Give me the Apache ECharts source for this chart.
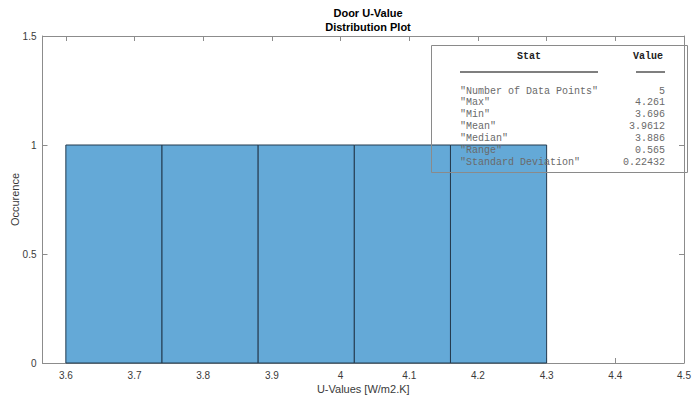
<!DOCTYPE html>
<html>
<head>
<meta charset="utf-8">
<script src="https://cdn.jsdelivr.net/npm/echarts@6/dist/echarts.min.js"></script>
<style>html,body{margin:0;padding:0;background:#fff}#c{width:692px;height:400px}</style>
</head>
<body>
<div id="c"></div>
<script>
const binEdges = [3.6, 3.74, 3.88, 4.02, 4.16, 4.3];
const counts = [1, 1, 1, 1, 1];
const xTicks = [3.6, 3.7, 3.8, 3.9, 4.0, 4.1, 4.2, 4.3, 4.4, 4.5];
const yTicks = [0, 0.5, 1, 1.5];
const statNames = ['"Number of Data Points"', '"Max"', '"Min"', '"Mean"', '"Median"', '"Range"', '"Standard Deviation"'];
const statValues = ['5', '4.261', '3.696', '3.9612', '3.886', '0.565', '0.22432'];

const histData = counts.map((c, i) => [binEdges[i], binEdges[i + 1], c]);
const fmt = v => String(Math.round(v * 10) / 10);
const axisColor = '#8c8c8c';
const labelColor = '#3a3a3a';
const mono = '"Liberation Mono", "DejaVu Sans Mono", monospace';

const graphics = [
  {type: 'rect', shape: {x: 431.5, y: 45.5, width: 256, height: 127}, style: {fill: 'none', stroke: '#8a8a8a', lineWidth: 1}, z: 100},
  {type: 'text', x: 529, y: 56, style: {text: 'Stat', font: 'bold 10px ' + mono, fill: '#222', align: 'center', verticalAlign: 'middle'}, z: 101},
  {type: 'text', x: 648, y: 56, style: {text: 'Value', font: 'bold 10px ' + mono, fill: '#222', align: 'center', verticalAlign: 'middle'}, z: 101},
  {type: 'line', shape: {x1: 460, y1: 72, x2: 598, y2: 72}, style: {stroke: '#555', lineWidth: 1.5}, z: 101},
  {type: 'line', shape: {x1: 636, y1: 72, x2: 665, y2: 72}, style: {stroke: '#555', lineWidth: 1.5}, z: 101}
];
statNames.forEach((n, i) => {
  const y = 91 + i * 11.9;
  graphics.push({type: 'text', x: 460, y: y, style: {text: n, font: '10px ' + mono, fill: '#6a6a6a', align: 'left', verticalAlign: 'middle'}, z: 101});
  graphics.push({type: 'text', x: 665, y: y, style: {text: statValues[i], font: '10px ' + mono, fill: '#6a6a6a', align: 'right', verticalAlign: 'middle'}, z: 101});
});

const chart = echarts.init(document.getElementById('c'), null, {renderer: 'svg'});
const baseX = {
  type: 'value', min: 3.566, max: 4.5,
  axisLine: {show: true, onZero: false, lineStyle: {color: axisColor}},
  splitLine: {show: false},
  axisTick: {show: true, inside: true, length: 5, lineStyle: {color: axisColor}, customValues: xTicks},
};
const baseY = {
  type: 'value', min: 0, max: 1.5, interval: 0.5,
  axisLine: {show: true, lineStyle: {color: axisColor}},
  splitLine: {show: false},
  axisTick: {show: true, inside: true, length: 5, lineStyle: {color: axisColor}},
};
chart.setOption({
  animation: false,
  title: {
    text: 'Door U-Value\nDistribution Plot',
    left: 363, top: 1, textAlign: 'center',
    textStyle: {fontFamily: '"Liberation Sans", Arial, sans-serif', fontSize: 11, fontWeight: 'bold', color: '#000', lineHeight: 14}
  },
  grid: {left: 42.5, right: 8, top: 36, bottom: 37, containLabel: false, outerBoundsMode: 'none'},
  xAxis: [
    Object.assign({}, baseX, {
      position: 'bottom',
      name: 'U-Values [W/m2.K]', nameLocation: 'middle', nameGap: 20, nameMoveOverlap: false,
      nameTextStyle: {fontFamily: '"Liberation Sans", Arial, sans-serif', fontSize: 11, color: labelColor},
      axisLabel: {show: true, customValues: xTicks, formatter: fmt, margin: 7, fontSize: 10, color: labelColor, fontFamily: '"Liberation Sans", Arial, sans-serif'}
    }),
    Object.assign({}, baseX, {position: 'top', axisLabel: {show: false}})
  ],
  yAxis: [
    Object.assign({}, baseY, {
      position: 'left',
      name: 'Occurence', nameLocation: 'middle', nameGap: 22, nameMoveOverlap: false,
      nameTextStyle: {fontFamily: '"Liberation Sans", Arial, sans-serif', fontSize: 11, color: labelColor},
      axisLabel: {show: true, margin: 6, fontSize: 10, color: labelColor, fontFamily: '"Liberation Sans", Arial, sans-serif', formatter: v => String(v)}
    }),
    Object.assign({}, baseY, {position: 'right', axisLabel: {show: false}})
  ],
  series: [{
    type: 'custom',
    xAxisIndex: 0, yAxisIndex: 0,
    data: histData,
    encode: {x: [0, 1], y: 2},
    renderItem: function (params, api) {
      const p0 = api.coord([api.value(0), 0]);
      const p1 = api.coord([api.value(1), api.value(2)]);
      return {
        type: 'rect',
        shape: {x: p0[0], y: p1[1], width: p1[0] - p0[0], height: p0[1] - p1[1]},
        style: {fill: '#64a9d7', stroke: '#233a4e', lineWidth: 1}
      };
    }
  }],
  graphic: graphics
});
</script>
</body>
</html>
